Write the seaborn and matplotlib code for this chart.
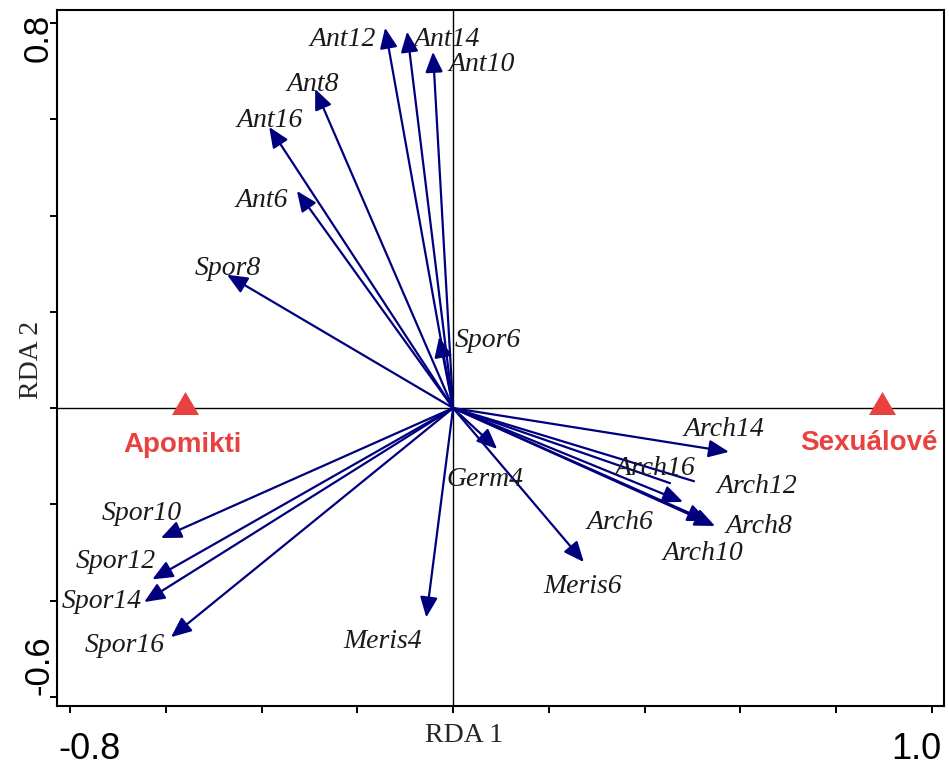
import numpy as np
import pandas as pd
import matplotlib
matplotlib.use("Agg")
import matplotlib.pyplot as plt
import seaborn as sns

# ---- data ----
species = ["Ant12", "Ant14", "Ant10", "Ant8", "Ant16", "Ant6", "Spor8", "Spor6",
           "Germ4", "Meris6", "Meris4", "Arch14", "Arch12", "Arch16", "Arch6",
           "Arch8", "Arch10", "Spor10", "Spor12", "Spor14", "Spor16"]
rda1 = [-0.142, -0.096, -0.042, -0.288, -0.384, -0.326, -0.472, -0.029,
        0.092, 0.273, -0.056, 0.576, 0.503, 0.453, 0.480,
        0.547, 0.532, -0.610, -0.628, -0.645, -0.589]
rda2 = [0.790, 0.782, 0.740, 0.663, 0.584, 0.451, 0.277, 0.148,
        -0.085, -0.320, -0.435, -0.091, -0.152, -0.156, -0.195,
        -0.245, -0.235, -0.270, -0.356, -0.403, -0.476]

groups = ["Apomikti", "Sexuálové"]
group_x = [-0.560, 0.896]
group_y = [0.011, 0.011]

x_ticks = [-0.8, -0.6, -0.4, -0.2, 0.0, 0.2, 0.4, 0.6, 0.8, 1.0]
y_ticks = [-0.6, -0.4, -0.2, 0.0, 0.2, 0.4, 0.6, 0.8]
x_end_labels = ["-0.8", "1.0"]
y_end_labels = ["-0.6", "0.8"]

# ---- layout / style ----
label_offset_px = {
    "Ant12": (-42, 12), "Ant14": (40, 8), "Ant10": (49, 13), "Ant8": (-2, -4),
    "Ant16": (1, -6), "Ant6": (-35, 10), "Spor8": (1, -6), "Spor6": (49, 4),
    "Germ4": (-12, 31), "Meris6": (-1, 24), "Meris4": (-44, 24),
    "Arch14": (-5, -22), "Arch12": (63, 5), "Arch16": (-15, -15),
    "Arch6": (-63, 21), "Arch8": (44, 1), "Arch10": (-5, 32),
    "Spor10": (-19, -25), "Spor12": (-37, -18), "Spor14": (-42, -1),
    "Spor16": (-46, 8),
}
group_label_offset_px = {"Apomikti": (-2, 42), "Sexuálové": (-13, 40)}
headless = {"Arch12", "Arch16"}
arrow_color = "#00007f"
red = "#e8413f"

sns.set_theme(style="white")
plt.rcParams["font.family"] = ["Liberation Sans", "DejaVu Sans"]

fig = plt.figure(figsize=(9.49, 7.69), dpi=100)
ax = fig.add_axes([57 / 949, 1 - 706 / 769, 887 / 949, 696 / 769])
ax.set_xlim(-0.827, 1.025)
ax.set_ylim(-0.619, 0.827)

ax.axhline(0, color="black", lw=1.0, zorder=1)
ax.axvline(0, color="black", lw=1.0, zorder=1)

df = pd.DataFrame({"species": species, "RDA1": rda1, "RDA2": rda2})
for _, r in df.iterrows():
    style = "-" if r["species"] in headless else "-|>,head_length=0.44,head_width=0.19"
    ax.annotate("", xy=(r["RDA1"], r["RDA2"]), xytext=(0, 0),
                arrowprops=dict(arrowstyle=style, mutation_scale=28, lw=1.6,
                                color=arrow_color, shrinkA=0, shrinkB=0),
                zorder=3)
    dx, dy = label_offset_px[r["species"]]
    ax.annotate(r["species"], xy=(r["RDA1"], r["RDA2"]), xytext=(dx, -dy),
                textcoords="offset pixels", ha="center", va="center",
                fontsize=20, fontstyle="italic", family="Liberation Serif",
                color="#1a1a1a", zorder=4)

tri = [(0, 0.85), (-1, -0.85), (1, -0.85)]
gdf = pd.DataFrame({"group": groups, "x": group_x, "y": group_y})
sns.scatterplot(data=gdf, x="x", y="y", marker=tri, s=380, color=red,
                edgecolor=red, linewidth=0, ax=ax, zorder=5, legend=False)
for _, r in gdf.iterrows():
    dx, dy = group_label_offset_px[r["group"]]
    ax.annotate(r["group"], xy=(r["x"], r["y"]), xytext=(dx, -dy),
                textcoords="offset pixels", ha="center", va="center",
                fontsize=20, fontweight="bold", color=red, zorder=5)

ax.set_xticks(x_ticks)
ax.set_yticks(y_ticks)
ax.set_xticklabels([])
ax.set_yticklabels([])
ax.tick_params(axis="both", direction="out", length=5, width=1.4, color="black",
               bottom=True, left=True)
ax.set_xlabel("")
ax.set_ylabel("")

# end tick labels (real text), placed at the tick positions
ax.annotate(x_end_labels[0], xy=(x_ticks[0], 0), xycoords=("data", "axes fraction"),
            xytext=(20, -61), textcoords="offset pixels", ha="center", va="bottom",
            fontsize=26, color="black")
ax.annotate(x_end_labels[1], xy=(x_ticks[-1], 0), xycoords=("data", "axes fraction"),
            xytext=(-16, -61), textcoords="offset pixels", ha="center", va="bottom",
            fontsize=26, color="black")
ax.annotate(y_end_labels[0], xy=(0, y_ticks[0]), xycoords=("axes fraction", "data"),
            xytext=(-9, 32), textcoords="offset pixels", ha="center", va="baseline",
            rotation=90, rotation_mode="anchor", fontsize=25, color="black")
ax.annotate(y_end_labels[1], xy=(0, y_ticks[-1]), xycoords=("axes fraction", "data"),
            xytext=(-9, -15), textcoords="offset pixels", ha="center", va="baseline",
            rotation=90, rotation_mode="anchor", fontsize=25, color="black")

# axis titles
fig.text(464 / 949, 1 - 735 / 769, "RDA 1", family="Liberation Serif", fontsize=20,
         ha="center", va="center")
fig.text(32 / 949, 1 - 360 / 769, "RDA 2", family="Liberation Serif", fontsize=20,
         ha="center", va="center", rotation=90)

for s in ax.spines.values():
    s.set_visible(True)
    s.set_color("black")
    s.set_linewidth(1.5)

fig.savefig("out.png", dpi=100)
